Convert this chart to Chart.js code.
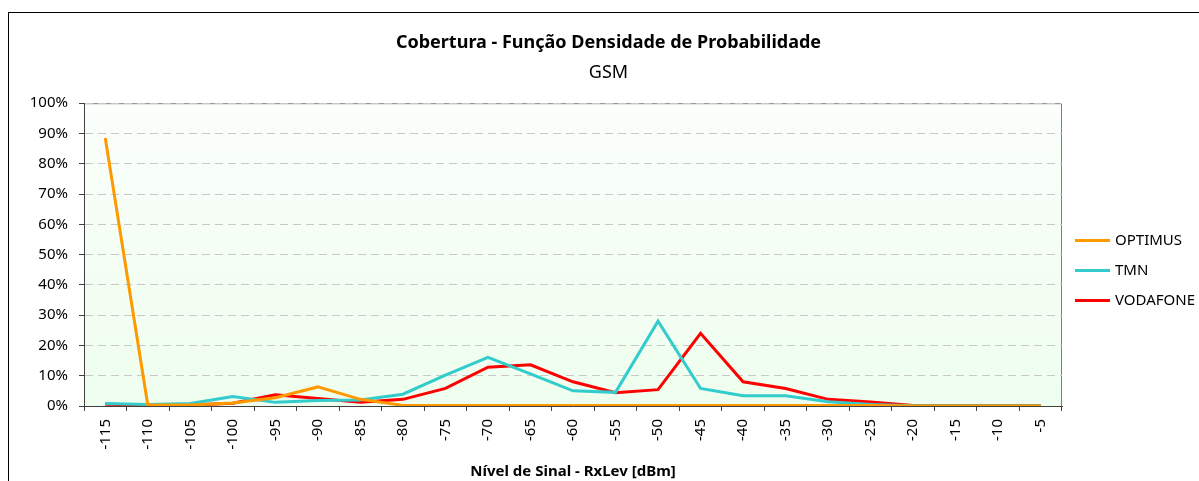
<!DOCTYPE html>
<html>
<head>
<meta charset="utf-8">
<script src="https://cdn.jsdelivr.net/npm/chart.js@4"></script>
<style>
  body { margin: 0; background: #fff; }
  #wrap { position: relative; width: 1199px; height: 481px; }
</style>
</head>
<body>
<div id="wrap"><canvas id="myChart" width="1199" height="481"></canvas></div>
<script>
const categories = ['-115', '-110', '-105', '-100', '-95', '-90', '-85', '-80', '-75', '-70', '-65', '-60',
                    '-55', '-50', '-45', '-40', '-35', '-30', '-25', '-20', '-15', '-10', '-5'];
const optimus  = [88.5, 0.3, 0.3, 1.0, 2.7, 6.3, 2.2, 0.2, 0.2, 0.2, 0.2, 0.2,
                  0.2, 0.2, 0.2, 0.2, 0.2, 0.2, 0.2, 0, 0, 0, 0];
const tmn      = [0.8, 0.5, 0.8, 3.1, 1.2, 1.8, 2.0, 3.9, 10.2, 16.1, 10.6, 5.0,
                  4.5, 28.0, 5.8, 3.4, 3.4, 1.4, 0.5, 0.1, 0.1, 0.1, 0.1];
const vodafone = [0.6, 0.3, 0.3, 0.9, 3.7, 2.5, 1.2, 2.2, 5.8, 12.8, 13.6, 8.0,
                  4.4, 5.4, 24.0, 8.0, 5.8, 2.2, 1.3, 0.2, 0.2, 0.2, 0.2];
const yTicks = [0, 10, 20, 30, 40, 50, 60, 70, 80, 90, 100];

const FONT = "'Liberation Sans Narrow', 'Arial Narrow', 'Noto Sans', 'Liberation Sans', sans-serif";
const NARROW = 'condensed ';

// plot background gradient, outer border and the legend on the right
const frame = {
  id: 'frame',
  beforeDraw(chart) {
    const {ctx, chartArea: a} = chart;
    ctx.save();
    ctx.strokeStyle = '#000';
    ctx.lineWidth = 1;
    ctx.strokeRect(8.5, 12.5, 1300, 600);
    const g = ctx.createLinearGradient(0, a.top, 0, a.bottom);
    g.addColorStop(0, '#fbfefb');
    g.addColorStop(1, '#eefeee');
    ctx.fillStyle = g;
    ctx.fillRect(a.left, a.top, a.right - a.left, a.bottom - a.top);
    ctx.strokeStyle = '#808080';
    ctx.beginPath();
    ctx.moveTo(a.left, a.top + 0.5);
    ctx.lineTo(a.right, a.top + 0.5);
    ctx.moveTo(a.right - 0.5, a.top);
    ctx.lineTo(a.right - 0.5, a.bottom);
    ctx.stroke();
    ctx.restore();
  },
  afterDraw(chart) {
    const {ctx, chartArea: a} = chart;
    const sets = chart.data.datasets;
    const x0 = a.right + 13;
    const yMid = (a.top + a.bottom) / 2 + 15;
    ctx.save();
    ctx.font = NARROW + 'normal 15px ' + FONT;
    ctx.textBaseline = 'middle';
    ctx.textAlign = 'left';
    sets.forEach((ds, i) => {
      const y = Math.round(yMid + (i - (sets.length - 1) / 2) * 30) + 0.5;
      ctx.strokeStyle = ds.borderColor;
      ctx.lineWidth = 3;
      ctx.beginPath();
      ctx.moveTo(x0, y);
      ctx.lineTo(x0 + 35, y);
      ctx.stroke();
      ctx.fillStyle = '#000';
      ctx.fillText(ds.label, x0 + 40, y);
    });
    ctx.restore();
  }
};

new Chart(document.getElementById('myChart'), {
  type: 'line',
  data: {
    labels: categories,
    datasets: [
      { label: 'OPTIMUS', data: optimus, borderColor: '#ff9900', backgroundColor: '#ff9900', borderWidth: 3 },
      { label: 'TMN', data: tmn, borderColor: '#33cccc', backgroundColor: '#33cccc', borderWidth: 3 },
      { label: 'VODAFONE', data: vodafone, borderColor: '#ff0000', backgroundColor: '#ff0000', borderWidth: 3 }
    ]
  },
  options: {
    responsive: false,
    animation: false,
    events: [],
    layout: { padding: { left: 18, top: 0, right: 0, bottom: 0 } },
    elements: { line: { borderWidth: 3, tension: 0 }, point: { radius: 0 } },
    plugins: {
      title: {
        display: true,
        text: 'Cobertura - Função Densidade de Probabilidade',
        color: '#000',
        font: { family: FONT, size: 18, weight: NARROW + 'bold' },
        padding: { top: 32, bottom: 4 }
      },
      subtitle: {
        display: true,
        text: 'GSM',
        color: '#000',
        font: { family: FONT, size: 18, weight: NARROW + 'normal' },
        padding: { top: 4, bottom: 20 }
      },
      legend: { display: false },
      tooltip: { enabled: false }
    },
    scales: {
      x: {
        offset: true,
        grid: { offset: true, drawOnChartArea: false, tickLength: 5, tickColor: '#404040' },
        border: { color: '#404040', width: 1 },
        ticks: { minRotation: 90, maxRotation: 90, padding: 8, color: '#000',
                 font: { family: FONT, size: 15, weight: NARROW + 'normal' } },
        title: {
          display: true,
          text: 'Nível de Sinal - RxLev [dBm]',
          color: '#000',
          font: { family: FONT, size: 15, weight: NARROW + 'bold' },
          padding: 0
        },
        afterFit(scale) { scale.height = 75; }
      },
      y: {
        min: 0,
        max: 100,
        afterBuildTicks(scale) { scale.ticks = yTicks.map(v => ({ value: v })); },
        grid: { color: '#c8c8c8', tickLength: 5, tickColor: '#404040' },
        border: { color: '#404040', width: 1, dash: [8, 5] },
        ticks: {
          padding: 11,
          color: '#000',
          font: { family: FONT, size: 15, weight: NARROW + 'normal' },
          callback: v => v + '%'
        },
        afterFit(scale) { scale.width = 66; }
      },
      // empty right-hand axis that only reserves room for the legend
      legendSpace: {
        position: 'right',
        display: true,
        min: 0,
        max: 100,
        grid: { display: false, drawTicks: false },
        border: { display: false },
        ticks: { display: false },
        afterFit(scale) { scale.width = 137; }
      }
    }
  },
  plugins: [frame]
});
</script>
</body>
</html>
